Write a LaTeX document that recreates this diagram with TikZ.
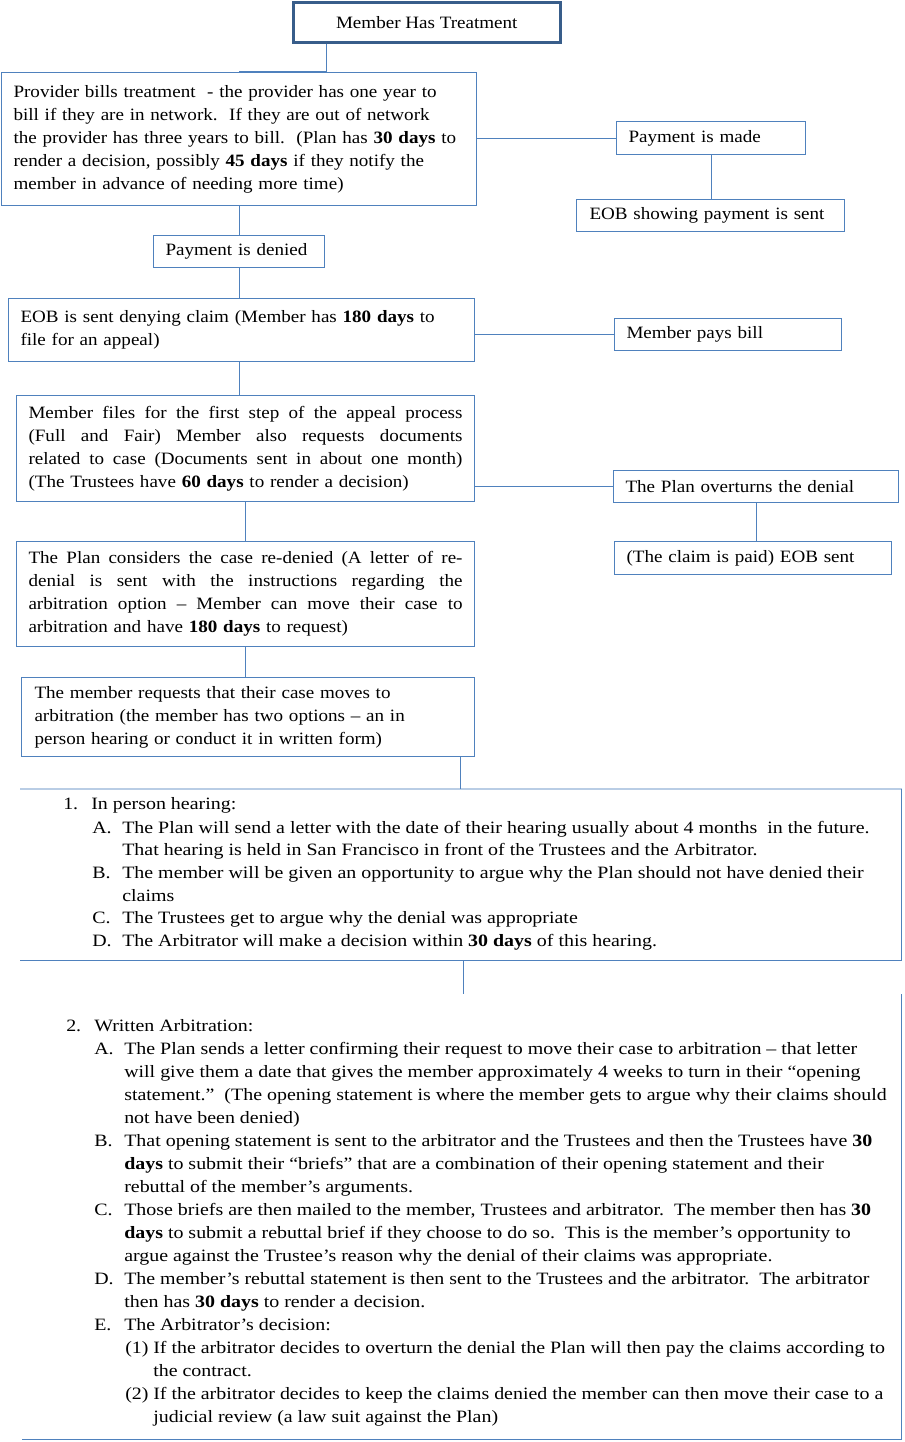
\documentclass[tikz,border=0pt]{standalone}
\usepackage{fontspec}
\setmainfont{Liberation Serif}[FakeStretch=1.10]
\newfontfamily\listfont{Liberation Serif}[FakeStretch=1.15]
\definecolor{bord}{HTML}{4F81BD}
\definecolor{topb}{HTML}{385D8A}
\definecolor{lite}{HTML}{B9CDE5}
\newcommand\jline[1]{\makebox[325.5pt][s]{\spaceskip=0pt\xspaceskip=0pt\relax #1}}
\tikzset{
 box/.style={draw=bord, line width=0.8pt, fill=white, anchor=north west, inner xsep=9pt, inner ysep=0pt, align=left, font=\fontsize{13}{17.25}\selectfont},
 conn/.style={draw=bord, line width=0.8pt},
 li/.style={anchor=base west, inner sep=0pt, font=\listfont\fontsize{13}{17}\selectfont},
}
\begin{document}
\begin{tikzpicture}[x=0.75pt,y=-0.75pt]
\useasboundingbox (0,0) rectangle (904,1442);
% boxes
\node[draw=topb, line width=1.9pt, fill=white, minimum width=200.25pt, minimum height=30pt, anchor=north west, inner sep=0pt, font=\fontsize{13}{17.25}\selectfont] (top) at (292,1) {Member Has Treatment};
\node[box, text width=338.25pt, minimum height=99.75pt] (prov) at (1,72) {Provider bills treatment\ \ - the provider has one year to\\bill if they are in network.\ \ If they are out of network\\the provider has three years to bill.\ \ (Plan has \textbf{30 days} to\\render a decision, possibly \textbf{45 days} if they notify the\\member in advance of needing more time)};
\node[box, text width=123.75pt, minimum height=24.75pt] (made) at (616,121) {Payment is made};
\node[box, text width=181.5pt, minimum height=24pt, inner xsep=9.75pt] (eobpay) at (576,199) {EOB showing payment is sent};
\node[box, text width=110.25pt, minimum height=24pt] (pden) at (153,235) {Payment is denied};
\node[box, text width=331.5pt, minimum height=47.25pt] (eobd) at (8,298) {EOB is sent denying claim (Member has \textbf{180 days} to\\file for an appeal)};
\node[box, text width=152.25pt, minimum height=24pt] (pays) at (614,318) {Member pays bill};
\node[box, text width=325.5pt, minimum height=79.5pt] (files) at (16,395) {\jline{Member files for the first step of the appeal process}\\\jline{(Full and Fair) Member also requests documents}\\\jline{related to case (Documents sent in about one month)}\\(The Trustees have \textbf{60 days} to render a decision)};
\node[box, text width=195.75pt, minimum height=24pt] (over) at (613,470) {The Plan overturns the denial};
\node[box, text width=189.75pt, minimum height=24.75pt] (paid) at (614,541) {(The claim is paid) EOB sent};
\node[box, text width=325.5pt, minimum height=78.75pt] (cons) at (16,541) {\jline{The Plan considers the case re-denied (A letter of re-}\\\jline{denial is sent with the instructions regarding the}\\\jline{arbitration option -- Member can move their case to}\\arbitration and have \textbf{180 days} to request)};
\node[box, text width=320.25pt, minimum height=59.25pt, inner xsep=9.75pt] (req) at (21,677) {The member requests that their case moves to\\arbitration (the member has two options -- an in\\person hearing or conduct it in written form)};
% open frames
\node[anchor=north west, inner sep=0pt, minimum width=660.75pt, minimum height=128.25pt] (inp) at (20,789) {};
\node[anchor=north west, inner sep=0pt, minimum width=659.25pt, minimum height=333.75pt] (wr) at (22,994) {};
\draw[draw=lite, line width=0.8pt] (inp.north west) -- (inp.north east);
\draw[draw=bord, line width=0.8pt] (inp.north east) -- (inp.south east) -- (inp.south west);
\draw[draw=bord, line width=0.8pt] (wr.north east) -- (wr.south east) -- (wr.south west);
% connectors
\draw[conn] ([xshift=-75.4pt]top.south) |- (prov.north);
\draw[conn] (prov.east |- made.west) -- (made.west);
\draw[conn] (made.south) -- (made.south |- eobpay.north);
\draw[conn] (prov.south) -- (pden.north);
\draw[conn] (pden.south) -- (pden.south |- eobd.north);
\draw[conn] (eobd.east |- pays.west) -- (pays.west);
\draw[conn] (eobd.south -| pden.south) -- (files.north -| pden.south);
\draw[conn] (files.east |- over.west) -- (over.west);
\draw[conn] (over.south) -- (over.south |- paid.north);
\draw[conn] (files.south) -- (cons.north);
\draw[conn] (cons.south) -- (cons.south |- req.north);
\draw[conn] (req.south -| inp.north) -- (inp.north);
\draw[conn] ([xshift=2pt]inp.south) -- ([xshift=2pt]inp.south |- wr.north);
% in person list
\node[li] (n1) at (63,809) {1.};
\node[li] (t1) at (91,809) {In person hearing:};
\node[li] (na) at (92,833) {A.};
\node[li] (ta1) at (122,833) {The Plan will send a letter with the date of their hearing usually about 4 months\ \ in the future.};
\node[li] (ta2) at (122,855) {That hearing is held in San Francisco in front of the Trustees and the Arbitrator.};
\node[li] (nb) at (92,878) {B.};
\node[li] (tb1) at (122,878) {The member will be given an opportunity to argue why the Plan should not have denied their};
\node[li] (tb2) at (122,901) {claims};
\node[li] (nc) at (92,923) {C.};
\node[li] (tc1) at (122,923) {The Trustees get to argue why the denial was appropriate};
\node[li] (nd) at (92,946) {D.};
\node[li] (td1) at (122,946) {The Arbitrator will make a decision within \textbf{30 days} of this hearing.};
% written list
\node[li] (n2) at (66,1031) {2.};
\node[li] (t2) at (94,1031) {Written Arbitration:};
\node[li] (wa) at (94,1054) {A.};
\node[li] (wa1) at (124,1054) {The Plan sends a letter confirming their request to move their case to arbitration – that letter};
\node[li] (wa2) at (124,1077) {will give them a date that gives the member approximately 4 weeks to turn in their “opening};
\node[li] (wa3) at (124,1100) {statement.”\ \ (The opening statement is where the member gets to argue why their claims should};
\node[li] (wa4) at (124,1123) {not have been denied)};
\node[li] (wb) at (94,1146) {B.};
\node[li] (wb1) at (124,1146) {That opening statement is sent to the arbitrator and the Trustees and then the Trustees have \textbf{30}};
\node[li] (wb2) at (124,1169) {\textbf{days} to submit their “briefs” that are a combination of their opening statement and their};
\node[li] (wb3) at (124,1192) {rebuttal of the member’s arguments.};
\node[li] (wc) at (94,1215) {C.};
\node[li] (wc1) at (124,1215) {Those briefs are then mailed to the member, Trustees and arbitrator.\ \ The member then has \textbf{30}};
\node[li] (wc2) at (124,1238) {\textbf{days} to submit a rebuttal brief if they choose to do so.\ \ This is the member’s opportunity to};
\node[li] (wc3) at (124,1261) {argue against the Trustee’s reason why the denial of their claims was appropriate.};
\node[li] (wd) at (94,1284) {D.};
\node[li] (wd1) at (124,1284) {The member’s rebuttal statement is then sent to the Trustees and the arbitrator.\ \ The arbitrator};
\node[li] (wd2) at (124,1307) {then has \textbf{30 days} to render a decision.};
\node[li] (we) at (94,1330) {E.};
\node[li] (we1) at (124,1330) {The Arbitrator’s decision:};
\node[li] (w1) at (125,1353) {(1)};
\node[li] (w11) at (153,1353) {If the arbitrator decides to overturn the denial the Plan will then pay the claims according to};
\node[li] (w12) at (153,1376) {the contract.};
\node[li] (w2) at (125,1399) {(2)};
\node[li] (w21) at (153,1399) {If the arbitrator decides to keep the claims denied the member can then move their case to a};
\node[li] (w22) at (153,1422) {judicial review (a law suit against the Plan)};
\end{tikzpicture}
\end{document}
